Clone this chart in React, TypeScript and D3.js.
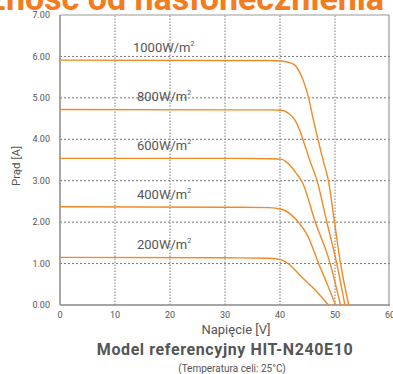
import React from "react";
import * as d3 from "d3";

const title = "Zależność od nasłonecznienia";
const xTicks = [0, 10, 20, 30, 40, 50, 60];
const yTicks = [0, 1, 2, 3, 4, 5, 6, 7];
const irradiance = ["1000", "800", "600", "400", "200"];

const v1000 = [0, 30, 38, 40.3, 41.5, 42.7, 43.6, 44.5, 45.2, 46.1, 47.0, 47.9, 48.8, 49.9, 51.0, 52.5];
const i1000 = [5.91, 5.9, 5.9, 5.89, 5.86, 5.79, 5.61, 5.32, 5.0, 4.45, 3.94, 3.46, 3.0, 2.01, 1.01, 0];
const v800 = [0, 30, 38, 40.3, 41.5, 42.7, 43.6, 44.5, 45.5, 46.7, 48.5, 50.3, 51.8];
const i800 = [4.72, 4.71, 4.71, 4.7, 4.63, 4.47, 4.22, 3.86, 3.46, 3.02, 2.01, 1.01, 0];
const v600 = [0, 30, 38, 40.3, 40.9, 42.1, 43.0, 44.0, 46.4, 49.1, 51.0];
const i600 = [3.54, 3.54, 3.53, 3.52, 3.48, 3.33, 3.17, 2.98, 2.01, 1.01, 0];
const v400 = [0, 30, 38, 40.3, 42.1, 43.3, 45.1, 47.0, 48.6, 50.1];
const i400 = [2.37, 2.36, 2.35, 2.31, 2.17, 2.01, 1.65, 1.01, 0.5, 0];
const v200 = [0, 30, 38, 40.3, 42.1, 43.9, 46.4, 48.8];
const i200 = [1.15, 1.14, 1.13, 1.09, 0.93, 0.68, 0.36, 0];

const voltages = [v1000, v800, v600, v400, v200];
const currents = [i1000, i800, i600, i400, i200];

const W = 393;
const H = 374;
const ORANGE = "#F08A26";
const TEXT = "#555";
const FONT = "Roboto, 'Liberation Sans', sans-serif";

export default function App() {
  const x = d3.scaleLinear().domain([0, 60]).range([60, 390]);
  const y = d3.scaleLinear().domain([0, 7]).range([305, 15]);
  const line = d3
    .line<[number, number]>()
    .x((d) => x(d[0]))
    .y((d) => y(d[1]))
    .curve(d3.curveMonotoneX);

  return (
    <svg
      width={W}
      height={H}
      style={{ position: "absolute", left: 0, top: 0, background: "#fff" }}
      fontFamily={FONT}
    >
      <text
        x={384}
        y={10}
        textAnchor="end"
        fontSize={34}
        fontWeight="bold"
        fill="#F47B20"
      >
        {title}
      </text>

      {/* grid */}
      {yTicks.slice(1, -1).map((t) => (
        <line
          key={"hy" + t}
          x1={x(0)}
          x2={x(60)}
          y1={y(t)}
          y2={y(t)}
          stroke="#777"
          strokeWidth={1}
          strokeDasharray="2,2"
        />
      ))}
      {xTicks.slice(1, -1).map((t) => (
        <line
          key={"vx" + t}
          x1={x(t)}
          x2={x(t)}
          y1={y(0)}
          y2={y(7)}
          stroke="#999"
          strokeWidth={1.3}
          strokeDasharray="1.5,1.5"
        />
      ))}

      {/* frame */}
      <line x1={x(0)} x2={x(60) - 1} y1={y(7)} y2={y(7)} stroke="#999" strokeWidth={1.2} />
      <line x1={x(60) - 1} x2={x(60) - 1} y1={y(7)} y2={y(0)} stroke="#999" strokeWidth={1.2} />
      <line x1={x(0)} x2={x(0)} y1={y(7)} y2={y(0)} stroke="#888" strokeWidth={1.5} />
      <line x1={x(0)} x2={x(60)} y1={y(0)} y2={y(0)} stroke="#888" strokeWidth={1.5} />

      {/* curves */}
      {voltages.map((vs, k) => {
        const pts: [number, number][] = vs.map((v, j) => [v, currents[k][j]]);
        return (
          <path
            key={"c" + k}
            d={line(pts) || ""}
            fill="none"
            stroke={ORANGE}
            strokeWidth={1.4}
          />
        );
      })}

      {/* series labels */}
      {irradiance.map((lab, k) => (
        <text
          key={"l" + k}
          x={lab.length === 4 ? 133 : 137}
          y={y(currents[k][0]) - 8}
          fontSize={13}
          fill={TEXT}
        >
          {lab + "W/m"}
          <tspan fontSize={7} dy={-6}>
            2
          </tspan>
        </text>
      ))}

      {/* y tick labels */}
      {yTicks.map((t) => (
        <text
          key={"yt" + t}
          x={50}
          y={y(t)}
          dy="0.35em"
          textAnchor="end"
          fontSize={9}
          fill={TEXT}
        >
          {d3.format(".2f")(t)}
        </text>
      ))}
      {/* x tick labels */}
      {xTicks.map((t) => (
        <text
          key={"xt" + t}
          x={x(t)}
          y={315}
          dy="0.35em"
          textAnchor="middle"
          fontSize={9}
          fill={TEXT}
        >
          {t}
        </text>
      ))}

      <text
        transform={`translate(20,166) rotate(-90)`}
        textAnchor="middle"
        fontSize={11.5}
        fill={TEXT}
      >
        Prąd [A]
      </text>
      <text x={236} y={334} textAnchor="middle" fontSize={13} fill={TEXT}>
        Napięcie [V]
      </text>
      <text
        x={225}
        y={355}
        textAnchor="middle"
        fontSize={16}
        letterSpacing={0.6}
        fontWeight="bold"
        fill={TEXT}
      >
        Model referencyjny HIT-N240E10
      </text>
      <text x={232} y={372} textAnchor="middle" fontSize={10} fill={TEXT}>
        (Temperatura celi: 25°C)
      </text>
    </svg>
  );
}
